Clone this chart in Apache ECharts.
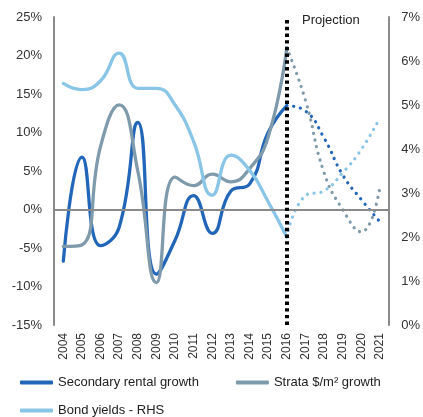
<!DOCTYPE html>
<html>
<head>
<meta charset="utf-8">
<script src="https://cdn.jsdelivr.net/npm/echarts@6/dist/echarts.min.js"></script>
<style>
  html, body { margin: 0; padding: 0; background: #fff; }
  #chart { width: 423px; height: 417px; }
</style>
</head>
<body>
<div id="chart"></div>
<script>
var years = ['2004', '2005', '2006', '2007', '2008', '2009', '2010', '2011', '2012',
             '2013', '2014', '2015', '2016', '2017', '2018', '2019', '2020', '2021'];

// actuals 2004-2016
var rentalActual = [-6.7, 6.8, -4.7, -2.3, 11.3, -8.4, -4.0, 1.8, -3.1, 2.4, 3.3, 10.0, 13.5];
var strataActual = [-4.8, -4.6, 8.2, 13.6, 5.0, -9.5, 4.2, 3.1, 4.6, 3.6, 5.3, 9.4, 21.0];
var bondActual = [5.49, 5.35, 5.55, 6.18, 5.38, 5.38, 5.0, 4.17, 2.95, 3.86, 3.52, 2.8, 2.0];

// projections 2016-2021
var rentalProj = [13.5, 12.8, 9.3, 4.5, 1.3, -1.6];
var strataProj = [21.0, 14.2, 4.8, 0.0, -2.9, 2.9];
var bondProj = [2.0, 2.94, 3.05, 3.46, 3.99, 4.71];

var projStart = '2016';
var projLabel = 'Projection';

var names = ['Secondary rental growth', 'Strata $/m\u00b2 growth', 'Bond yields - RHS'];
var colors = ['#2166b9', '#7e9aab', '#88c5e6'];

function actual(arr) {
    var out = [];
    for (var i = 0; i < years.length; i++) out.push(i < arr.length ? arr[i] : '-');
    return out;
}
function proj(arr) {
    var out = [];
    var start = years.indexOf(projStart);
    for (var i = 0; i < years.length; i++) out.push(i >= start ? arr[i - start] : '-');
    return out;
}

var chart = echarts.init(document.getElementById('chart'));
var font = 'Liberation Sans, Arial, sans-serif';
var axisGrey = '#8a8a8a';

function solid(idx, data, axis) {
    return {
        name: names[idx], type: 'line', yAxisIndex: axis, data: actual(data),
        smooth: true, symbol: 'none', silent: true,
        lineStyle: { color: colors[idx], width: 3.3, cap: 'round' },
        itemStyle: { color: colors[idx] }
    };
}
function dotted(idx, data, axis) {
    return {
        name: names[idx] + ' proj', type: 'line', yAxisIndex: axis, data: proj(data),
        smooth: true, symbol: 'none', silent: true,
        lineStyle: { color: colors[idx], width: 3.2, type: [0.1, 6.8], cap: 'round' }
    };
}

var series = [
    solid(0, rentalActual, 0),
    solid(1, strataActual, 0),
    solid(2, bondActual, 1),
    dotted(0, rentalProj, 0),
    dotted(1, strataProj, 0),
    dotted(2, bondProj, 1)
];
// zero line + projection divider
series[0].markLine = {
    silent: true, symbol: 'none', animation: false,
    label: { show: false },
    data: [
        { yAxis: 0, lineStyle: { color: axisGrey, width: 2, type: 'solid' } },
        { xAxis: projStart, lineStyle: { color: '#000', width: 4, type: [3.4, 3.3] } }
    ]
};

var option = {
    animation: false,
    textStyle: { fontFamily: font },
    grid: { left: 54, right: 33, top: 17, bottom: 92 },
    legend: [
        {
            data: [names[0], names[1]], left: 15, top: 371,
            itemWidth: 33, itemHeight: 4, itemGap: 37, icon: 'roundRect',
            textStyle: { fontSize: 13, color: '#222', fontFamily: font }
        },
        {
            data: [names[2]], left: 15, top: 399,
            itemWidth: 33, itemHeight: 4, icon: 'roundRect',
            textStyle: { fontSize: 13, color: '#222', fontFamily: font }
        }
    ],
    graphic: [{
        type: 'text', left: 302, top: 14,
        style: { text: projLabel, fontSize: 13, fill: '#222', fontFamily: font }
    }],
    xAxis: {
        type: 'category', data: years, boundaryGap: true,
        axisLine: { show: false, onZero: false },
        axisTick: { show: false },
        axisLabel: { rotate: 90, fontSize: 12, color: '#333', margin: 8, interval: 0 }
    },
    yAxis: [
        {
            type: 'value', min: -15, max: 25, interval: 5,
            axisLine: { show: true, lineStyle: { color: axisGrey, width: 2 } },
            axisTick: { show: false }, splitLine: { show: false },
            axisLabel: { formatter: '{value}%', fontSize: 13, color: '#333', margin: 12 }
        },
        {
            type: 'value', min: 0, max: 7, interval: 1, position: 'right',
            axisLine: { show: true, lineStyle: { color: axisGrey, width: 2 } },
            axisTick: { show: false }, splitLine: { show: false },
            axisLabel: { formatter: '{value}%', fontSize: 13, color: '#333', margin: 12 }
        }
    ],
    series: series
};
chart.setOption(option);
</script>
</body>
</html>
